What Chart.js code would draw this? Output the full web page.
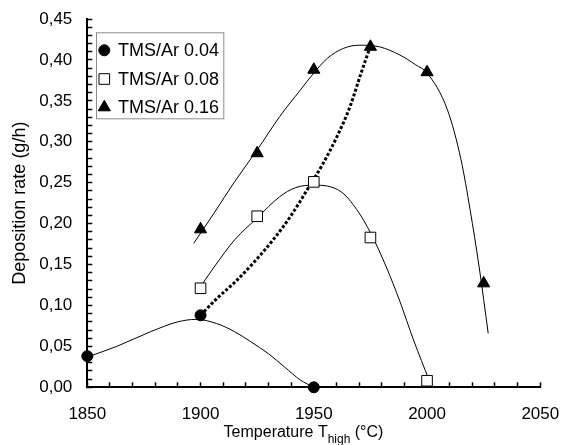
<!DOCTYPE html>
<html><head><meta charset="utf-8">
<script src="https://cdn.jsdelivr.net/npm/chart.js@4"></script>
<style>html,body{margin:0;padding:0;background:#fff;overflow:hidden}#wrap{position:relative;width:563px;height:445px}</style>
</head><body><div id="wrap"><canvas id="c" width="563" height="445"></canvas></div>
<script>
// ---- data ----
const seriesLabels = ['TMS/Ar 0.04', 'TMS/Ar 0.08', 'TMS/Ar 0.16'];
const yTitle = 'Deposition rate (g/h)';
const xTitleMain = 'Temperature T';
const xTitleSub = 'high';
const xTitleUnit = ' (°C)';

const temp04 = [1850, 1900, 1950];
const rate04 = [0.038, 0.088, 0.000];
const temp08 = [1900, 1925, 1950, 1975, 2000];
const rate08 = [0.121, 0.209, 0.251, 0.183, 0.008];
const temp16 = [1900, 1925, 1950, 1975, 2000, 2025];
const rate16 = [0.193, 0.286, 0.388, 0.416, 0.385, 0.127];

// trend curves
const fit04T = [1850, 1863, 1878, 1890, 1898, 1907, 1915, 1922, 1930, 1937, 1944, 1950];
const fit04V = [0.037, 0.050, 0.068, 0.080, 0.083, 0.078, 0.068, 0.056, 0.041, 0.025, 0.009, 0.000];
const fit08T = [1898, 1906, 1915, 1925, 1935, 1942, 1950, 1962, 1969, 1975, 1982, 1988, 1994, 2001];
const fit08V = [0.115, 0.147, 0.180, 0.207, 0.233, 0.244, 0.247, 0.239, 0.217, 0.189, 0.147, 0.105, 0.058, 0.008];
const fit16T = [1897, 1906, 1915, 1925, 1935, 1944, 1950, 1956, 1963, 1970, 1979, 1988, 1995, 2000, 2009, 2015, 2019, 2023, 2027];
const fit16V = [0.176, 0.213, 0.251, 0.290, 0.331, 0.363, 0.384, 0.402, 0.414, 0.418, 0.416, 0.406, 0.394, 0.384, 0.339, 0.278, 0.217, 0.147, 0.066];
// dotted guide line through the maxima
const dotT = [1900, 1907, 1915, 1923, 1932, 1940, 1947, 1954, 1960, 1966, 1971, 1975];
const dotV = [0.088, 0.108, 0.128, 0.151, 0.180, 0.210, 0.241, 0.273, 0.305, 0.343, 0.385, 0.417];

const xMin = 1850, xMax = 2050, xMajor = 50, xMinor = 10;
const yMin = 0, yMax = 0.45, yMinor = 0.01;

// ---- chart ----
const FONT = '"Liberation Sans", Arial, Helvetica, sans-serif';
const pts = (xs, ys) => xs.map((x, i) => ({x: x, y: ys[i]}));

const markerStyles = [
  {pointStyle: 'circle', radius: 5.5, bg: '#000'},
  {pointStyle: 'rect', radius: 7.5, bg: '#fff'},
  {pointStyle: 'triangle', radius: 7, bg: '#000'}
];

function markerDs(i, xs, ys) {
  const m = markerStyles[i];
  return {
    label: seriesLabels[i], data: pts(xs, ys), showLine: false,
    pointStyle: m.pointStyle, pointRadius: m.radius, pointHoverRadius: m.radius,
    pointBackgroundColor: m.bg, pointBorderColor: '#000', pointBorderWidth: 1,
    clip: false, order: 1
  };
}
function curveDs(xs, ys, extra) {
  return Object.assign({
    label: '', data: pts(xs, ys), showLine: true, pointRadius: 0, pointHoverRadius: 0,
    borderColor: '#000', borderWidth: 1, cubicInterpolationMode: 'monotone',
    fill: false, clip: false, order: 2
  }, extra || {});
}

const legendPlugin = {
  id: 'boxLegend',
  afterDraw(chart) {
    const ctx = chart.ctx, ca = chart.chartArea;
    const bx = ca.left + 8.7, by = ca.top + 13.3, bw = 127.3, bh = 86;
    ctx.save();
    ctx.fillStyle = '#fff';
    ctx.fillRect(bx, by, bw, bh);
    ctx.strokeStyle = '#8c8c8c';
    ctx.lineWidth = 1;
    ctx.strokeRect(bx + 0.5, by + 0.5, bw, bh);
    const rowY = [by + 18, by + 46.7, by + 75];
    for (let i = 0; i < seriesLabels.length; i++) {
      const m = markerStyles[i];
      ctx.fillStyle = m.bg; ctx.strokeStyle = '#000'; ctx.lineWidth = 1;
      Chart.helpers.drawPoint(ctx, {pointStyle: m.pointStyle, radius: m.radius, borderWidth: 1, rotation: 0}, bx + 8.3, rowY[i]);
      ctx.fillStyle = '#000';
      ctx.font = '18px ' + FONT;
      ctx.textBaseline = 'middle';
      ctx.textAlign = 'left';
      ctx.fillText(seriesLabels[i], bx + 22, rowY[i] + 1);
    }
    ctx.restore();
  }
};

const xTitlePlugin = {
  id: 'xTitle',
  afterDraw(chart) {
    const ctx = chart.ctx;
    ctx.save();
    ctx.fillStyle = '#000';
    ctx.textBaseline = 'alphabetic';
    ctx.textAlign = 'left';
    const f1 = '16px ' + FONT, f2 = '12px ' + FONT;
    ctx.font = f1;
    const w1 = ctx.measureText(xTitleMain).width, w3 = ctx.measureText(xTitleUnit).width;
    ctx.font = f2;
    const w2 = ctx.measureText(xTitleSub).width;
    const total = w1 + w2 + w3;
    let x = 303.5 - total / 2;
    const base = 436.5;
    ctx.font = f1; ctx.fillText(xTitleMain, x, base); x += w1;
    ctx.font = f2; ctx.fillText(xTitleSub, x, base + 6); x += w2;
    ctx.font = f1; ctx.fillText(xTitleUnit, x, base);
    ctx.restore();
  }
};

new Chart(document.getElementById('c'), {
  type: 'scatter',
  data: {
    datasets: [
      markerDs(0, temp04, rate04),
      markerDs(1, temp08, rate08),
      markerDs(2, temp16, rate16),
      curveDs(fit04T, fit04V),
      curveDs(fit08T, fit08V),
      curveDs(fit16T, fit16V),
      curveDs(dotT, dotV, {borderWidth: 3, borderDash: [3, 2], cubicInterpolationMode: 'monotone'})
    ]
  },
  options: {
    responsive: false, animation: false, devicePixelRatio: 1,
    layout: {padding: {left: 0, right: 22.7, top: 19, bottom: 0}},
    plugins: {legend: {display: false}, tooltip: {enabled: false}, title: {display: false}},
    scales: {
      x: {
        type: 'linear', min: xMin, max: xMax,
        ticks: {
          stepSize: xMinor, autoSkip: false, maxRotation: 0, minRotation: 0, maxTicksLimit: 100,
          padding: 22, color: '#000', font: {family: FONT, size: 17},
          callback: v => (Math.round(v) % xMajor === 0 ? String(Math.round(v)) : '')
        },
        grid: {drawOnChartArea: false, drawTicks: true, tickLength: -5, tickColor: '#000', tickWidth: 1.5},
        border: {display: true, color: '#000', width: 2},
        afterFit: s => { s.height = 57.7; s.paddingLeft = 0; s.paddingRight = 0; }
      },
      y: {
        type: 'linear', min: yMin, max: yMax,
        ticks: {
          stepSize: yMinor, autoSkip: false, maxTicksLimit: 100,
          padding: 20, color: '#000', font: {family: FONT, size: 17},
          callback: v => { const k = Math.round(v * 100); return k % 5 === 0 ? (k / 100).toFixed(2).replace('.', ',') : ''; }
        },
        grid: {drawOnChartArea: false, drawTicks: true, tickLength: -5, tickColor: '#000', tickWidth: 1.5},
        border: {display: true, color: '#000', width: 2},
        title: {display: true, text: yTitle, color: '#000', font: {family: FONT, size: 18}, padding: {top: 9, bottom: 0}},
        afterFit: s => { s.width = 87.3; s.paddingTop = 0; s.paddingBottom = 0; }
      }
    }
  },
  plugins: [legendPlugin, xTitlePlugin]
});
</script>
</body></html>
